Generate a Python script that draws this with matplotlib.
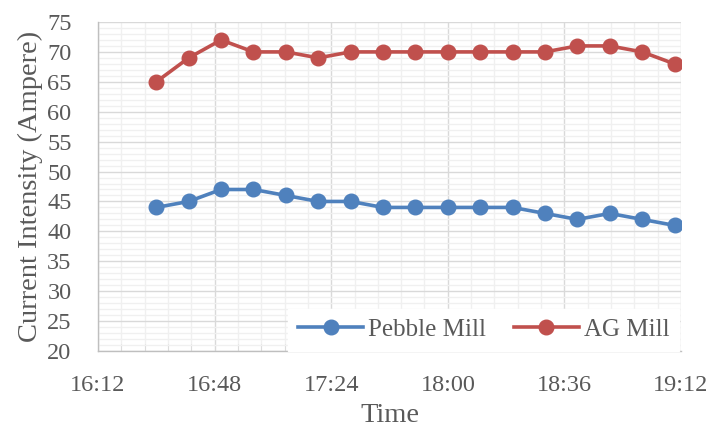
import matplotlib
matplotlib.use("Agg")
import matplotlib.pyplot as plt
from matplotlib.ticker import MultipleLocator, FixedLocator

times = ["16:30", "16:40", "16:50", "17:00", "17:10", "17:20", "17:30", "17:40", "17:50",
         "18:00", "18:10", "18:20", "18:30", "18:40", "18:50", "19:00", "19:10"]
pebble_mill = [44, 45, 47, 47, 46, 45, 45, 44, 44, 44, 44, 44, 43, 42, 43, 42, 41]
ag_mill = [65, 69, 72, 70, 70, 69, 70, 70, 70, 70, 70, 70, 70, 71, 71, 70, 68]
x_tick_labels = ["16:12", "16:48", "17:24", "18:00", "18:36", "19:12"]
y_ticks = [20, 25, 30, 35, 40, 45, 50, 55, 60, 65, 70, 75]


def to_min(s):
    h, m = s.split(":")
    return int(h) * 60 + int(m)


xs = [to_min(t) for t in times]
xt = [to_min(t) for t in x_tick_labels]

plt.rcParams['font.family'] = ['Liberation Serif', 'DejaVu Serif']
txt = '#595959'

fig = plt.figure(figsize=(7.1, 4.28), dpi=100)
ax = fig.add_axes([98 / 710, 1 - 351 / 428, (681 - 98) / 710, (351 - 22) / 428])

ax.plot(xs, pebble_mill, color='#4F81BD', lw=2.6, marker='o', ms=10.5, label='Pebble Mill', zorder=3)
ax.plot(xs, ag_mill, color='#C0504D', lw=2.6, marker='o', ms=10.5, label='AG Mill', zorder=3)

ax.set_xlim(xt[0], xt[-1])
ax.set_ylim(y_ticks[0], y_ticks[-1])
ax.xaxis.set_major_locator(FixedLocator(xt))
ax.set_xticklabels(x_tick_labels)
ax.xaxis.set_minor_locator(MultipleLocator(7.2))
ax.set_yticks(y_ticks)
ax.yaxis.set_minor_locator(MultipleLocator(1))

ax.grid(which='major', color='#D9D9D9', lw=1.0, zorder=0)
ax.grid(which='minor', color='#F0F0F0', lw=1.0, zorder=0)
ax.set_axisbelow(True)

for s in ['top', 'right']:
    ax.spines[s].set_visible(False)
for s in ['left', 'bottom']:
    ax.spines[s].set_color('#BFBFBF')
    ax.spines[s].set_linewidth(1.0)

ax.tick_params(axis='both', which='major', length=0, labelsize=17.5, colors=txt)
ax.tick_params(axis='y', which='minor', length=0)
ax.tick_params(axis='x', which='minor', direction='in', length=5, color='#D9D9D9')
ax.tick_params(axis='y', which='major', pad=19)
ax.tick_params(axis='x', which='major', pad=17)

ax.set_ylabel('Current Intensity (Ampere)', fontsize=20.5, color=txt, labelpad=3)
ax.set_xlabel('Time', fontsize=20.5, color=txt, labelpad=5)

leg = ax.legend(loc='lower right', bbox_to_anchor=(0.997, 0.0), ncol=2, frameon=True,
                fontsize=18, handlelength=2.6, handletextpad=0.2, columnspacing=1.1,
                borderaxespad=0.0, fancybox=False, borderpad=0.4)
leg.get_frame().set_facecolor('white')
leg.get_frame().set_edgecolor('white')
leg.get_frame().set_alpha(1.0)
for t in leg.get_texts():
    t.set_color(txt)

fig.savefig('out.png', dpi=100)
